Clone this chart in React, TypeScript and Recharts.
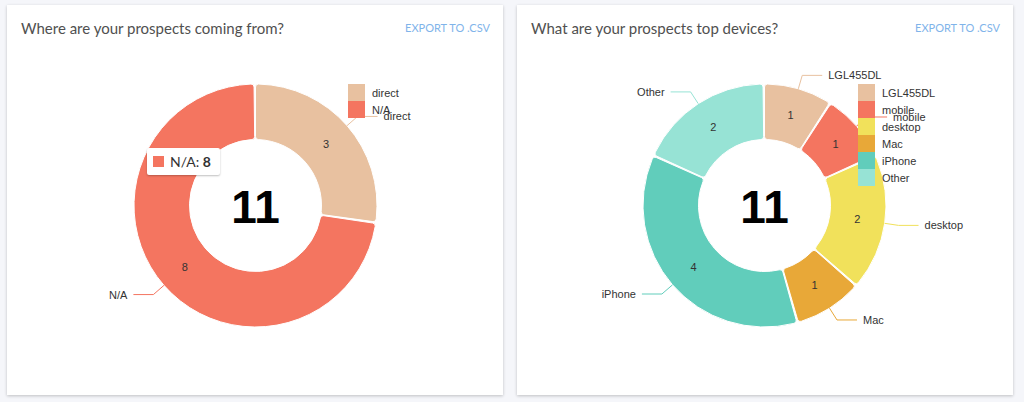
import React from 'react';
import { PieChart, Pie, Cell, Legend, Tooltip } from 'recharts';

const sourceNames = ['direct', 'N/A'];
const sourceValues = [3, 8];

const deviceNames = ['LGL455DL', 'mobile', 'desktop', 'Mac', 'iPhone', 'Other'];
const deviceValues = [1, 1, 2, 1, 4, 2];

const palette = ['#e8c1a0', '#f47560', '#f1e15b', '#e8a838', '#61cdbb', '#97e3d5'];

const RAD = Math.PI / 180;
const chartFont = '"Liberation Sans", Arial, Helvetica, sans-serif';
const pageFont = 'Lato, "Open Sans", sans-serif';

// value in the middle of the ring + nivo-style link label outside
// (the first slice also draws the total in the hole)
function SliceLabel(props: any) {
  const { cx, cy, midAngle, innerRadius, outerRadius, fill, name, value, total } = props;
  const cos = Math.cos(-midAngle * RAD);
  const sin = Math.sin(-midAngle * RAD);
  const mid = (innerRadius + outerRadius) / 2;
  const sx = cx + outerRadius * cos;
  const sy = cy + outerRadius * sin;
  const dx = cx + (outerRadius + 14) * cos;
  const dy = cy + (outerRadius + 14) * sin;
  const right = cos >= 0;
  const ex = dx + (right ? 20 : -20);
  return (
    <g>
      {total !== undefined && (
        <text
          x={cx}
          y={cy + 17}
          textAnchor="middle"
          fontSize={46}
          fontWeight="bold"
          fontFamily={chartFont}
          fill="#000"
        >
          {total}
        </text>
      )}
      <text
        x={cx + mid * cos}
        y={cy + mid * sin}
        textAnchor="middle"
        dominantBaseline="central"
        fontSize={11}
        fontFamily={chartFont}
        fill="#333"
      >
        {value}
      </text>
      <polyline points={`${sx},${sy} ${dx},${dy} ${ex},${dy}`} fill="none" stroke={fill} strokeWidth={1} />
      <text
        x={ex + (right ? 6 : -6)}
        y={dy}
        textAnchor={right ? 'start' : 'end'}
        dominantBaseline="central"
        fontSize={11}
        fontFamily={chartFont}
        fill="#333"
      >
        {name}
      </text>
    </g>
  );
}

function PieTip({ active, payload }: any) {
  if (!active || !payload?.length) return null;
  const item = payload[0];
  return (
    <div
      style={{
        background: '#fff',
        borderRadius: 2,
        boxShadow: '0 1px 2px rgba(0,0,0,0.25)',
        padding: '5px 9px 5px 6px',
        display: 'flex',
        alignItems: 'center',
        fontFamily: pageFont,
        fontSize: 14,
        color: '#333',
        whiteSpace: 'nowrap',
      }}
    >
      <span style={{ width: 11, height: 11, background: item.payload.fill, display: 'inline-block', marginRight: 6 }} />
      <span>
        {item.name}: <strong>{item.value}</strong>
      </span>
    </div>
  );
}

function Card({ left, title, names, values, cx, tipIndex }: any) {
  const data = names.map((n: string, i: number) => ({ name: n, value: values[i], fill: palette[i] }));
  const total = values.reduce((s: number, v: number) => s + v, 0);

  // keep legend in data order (recharts sorts payload by default)
  const renderLegend = () => (
    <div>
      {data.map((d: any) => (
        <div key={d.name} style={{ display: 'flex', alignItems: 'center', height: 17 }}>
          <span style={{ width: 17, height: 17, background: d.fill, display: 'inline-block' }} />
          <span style={{ marginLeft: 7, fontSize: 11, fontFamily: chartFont, color: '#333' }}>{d.name}</span>
        </div>
      ))}
    </div>
  );

  return (
    <div
      style={{
        position: 'absolute',
        left,
        top: 5,
        width: 496,
        height: 390,
        background: '#fff',
        boxShadow: '0 1px 3px rgba(0,0,0,0.22)',
      }}
    >
      <div style={{ position: 'absolute', left: 14, top: 14, fontFamily: pageFont, fontSize: 15, lineHeight: '18px', color: '#505050' }}>
        {title}
      </div>
      <div style={{ position: 'absolute', right: 13, top: 16, fontFamily: pageFont, fontSize: 11, lineHeight: '14px', color: '#7fb4ea' }}>
        EXPORT TO .CSV
      </div>
      <div style={{ position: 'absolute', left: 0, top: 0 }}>
        <PieChart width={496} height={390} margin={{ top: 0, right: 0, bottom: 0, left: 0 }}>
          <Pie
            data={data}
            dataKey="value"
            nameKey="name"
            cx={cx}
            cy={200.5}
            innerRadius={66}
            outerRadius={121.5}
            startAngle={90}
            endAngle={-270}
            paddingAngle={0.7}
            cornerRadius={3}
            stroke="#fff"
            strokeWidth={1}
            label={(p: any) => <SliceLabel {...p} total={p.index === 0 ? total : undefined} />}
            labelLine={false}
            isAnimationActive={false}
          >
            {data.map((d: any) => (
              <Cell key={d.name} fill={d.fill} />
            ))}
          </Pie>
          <Legend
            layout="vertical"
            align="right"
            verticalAlign="top"
            content={renderLegend}
            wrapperStyle={{ position: 'absolute', left: 341, top: 79, width: 'auto' }}
          />
          {tipIndex !== undefined && (
            <Tooltip
              content={PieTip}
              defaultIndex={tipIndex}
              active
              position={{ x: 140, y: 143 }}
              isAnimationActive={false}
              wrapperStyle={{ outline: 'none' }}
            />
          )}
        </PieChart>
      </div>
    </div>
  );
}

export default function App() {
  return (
    <div style={{ position: 'fixed', left: 0, top: 0, width: 1024, height: 402, background: '#f5f6fa', overflow: 'hidden' }}>
      <Card left={7} title="Where are your prospects coming from?" names={sourceNames} values={sourceValues} cx={248.5} tipIndex={1} />
      <Card left={517} title="What are your prospects top devices?" names={deviceNames} values={deviceValues} cx={247.5} />
    </div>
  );
}
